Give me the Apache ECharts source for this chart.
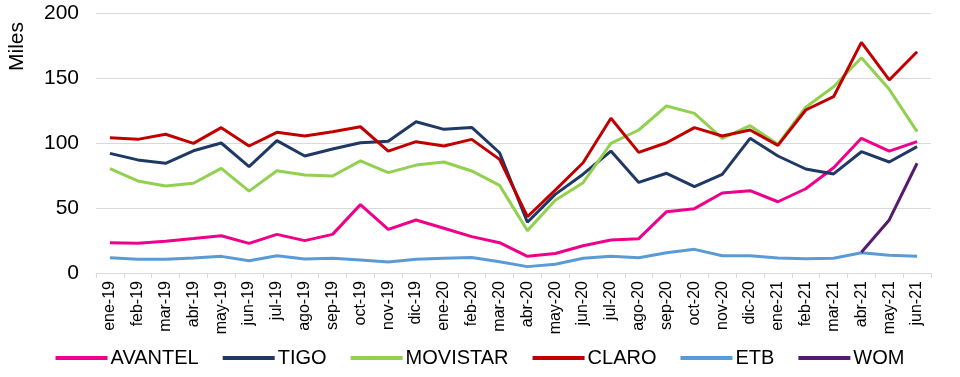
<!DOCTYPE html>
<html>
<head>
    <meta charset="utf-8">
    <title>Líneas por operador</title>
    <script src="https://cdn.jsdelivr.net/npm/echarts@6/dist/echarts.min.js"></script>
    <style>
        html, body {margin:0;padding:0;background:#fff;}
        #chart {width:960px;height:377px;}
    </style>
</head>
<body>
<div id="chart"></div>
<script>
    // meses
    const months = ['ene-19','feb-19','mar-19','abr-19','may-19','jun-19','jul-19','ago-19','sep-19','oct-19','nov-19','dic-19',
        'ene-20','feb-20','mar-20','abr-20','may-20','jun-20','jul-20','ago-20','sep-20','oct-20','nov-20','dic-20',
        'ene-21','feb-21','mar-21','abr-21','may-21','jun-21'];

    // valores en miles
    const avantel = [23.3,22.8,24.5,26.5,28.7,22.8,29.7,24.9,29.7,52.6,33.6,40.8,34.4,28,23.3,12.8,15,21,25.4,26.4,47.2,49.5,61.5,63.3,54.8,64.8,81,103.6,93.8,101];
    const tigo = [92,87,84.4,94,100,81.8,101.8,90,95.4,100.2,101.3,116.4,110.5,112,92.5,39,60.5,76,93.8,69.7,76.7,66.4,75.9,103.6,90,80,76.2,93.3,85.4,97.2];
    const movistar = [80.2,70.8,67,69,80.5,63,78.7,75.4,74.6,86.2,77.2,83,85.4,78.5,67.4,32.6,56,69.5,99.7,110,128.5,122.8,103.6,113.3,99,127.5,143.3,165.6,141.3,108.7];
    const claro = [104,102.8,106.7,99.7,111.8,97.7,108.2,105.4,108.7,112.5,93.8,101,97.7,102.8,87.4,43.3,63.8,84.8,119,92.8,100.2,111.8,105.4,110,98.2,125.4,135.6,177.4,148.5,170.2];
    const etb = [11.8,10.5,10.5,11.5,12.8,9.5,13.3,10.8,11.3,10,8.5,10.5,11.3,12,8.7,4.9,6.7,11.3,12.8,11.8,15.6,18.2,13.3,13.3,11.5,11,11.3,15.6,13.6,12.8];
    const wom = [null,null,null,null,null,null,null,null,null,null,null,null,null,null,null,null,null,null,null,null,null,null,null,null,null,null,null,16,40.8,84.4];

    const yTicks = {min: 0, max: 200, interval: 50};

    const font = "'Liberation Sans Narrow', 'Liberation Sans', Arial, sans-serif";

    const seriesList = [
        {name: 'AVANTEL', data: avantel, color: '#ec008c'},
        {name: 'TIGO', data: tigo, color: '#1f3864'},
        {name: 'MOVISTAR', data: movistar, color: '#92d050'},
        {name: 'CLARO', data: claro, color: '#c00000'},
        {name: 'ETB', data: etb, color: '#5b9bd5'},
        {name: 'WOM', data: wom, color: '#561a6e'}
    ];

    const chart = echarts.init(document.getElementById('chart'));
    chart.setOption({
        animation: false,
        backgroundColor: '#fff',
        grid: {left: 96, right: 29, top: 13, bottom: 104},
        legend: {
            bottom: 4,
            left: 'center',
            itemWidth: 52,
            itemHeight: 4,
            itemGap: 24,
            icon: 'rect',
            textStyle: {fontFamily: font, fontSize: 20, color: '#000', padding: [0, 0, 0, -2]},
            data: seriesList.map(s => s.name)
        },
        graphic: [{
            type: 'text',
            left: 7,
            top: 22,
            rotation: Math.PI / 2,
            style: {text: 'Miles', fontFamily: font, fontSize: 21, fill: '#000'}
        }],
        xAxis: {
            type: 'category',
            data: months,
            boundaryGap: true,
            axisLine: {lineStyle: {color: '#d9d9d9', width: 1}},
            axisTick: {show: true, alignWithLabel: false, length: 5, lineStyle: {color: '#d9d9d9'}},
            axisLabel: {rotate: 90, interval: 0, fontFamily: font, fontSize: 16, color: '#000', margin: 8}
        },
        yAxis: {
            type: 'value',
            min: yTicks.min,
            max: yTicks.max,
            interval: yTicks.interval,
            axisLine: {show: false},
            axisTick: {show: false},
            axisLabel: {fontFamily: font, fontSize: 21, color: '#000', margin: 17},
            splitLine: {lineStyle: {color: '#d9d9d9', width: 1}}
        },
        series: seriesList.map(s => ({
            name: s.name,
            type: 'line',
            data: s.data,
            symbol: 'none',
            connectNulls: false,
            lineStyle: {width: 3, color: s.color},
            itemStyle: {color: s.color}
        }))
    });
</script>
</body>
</html>
